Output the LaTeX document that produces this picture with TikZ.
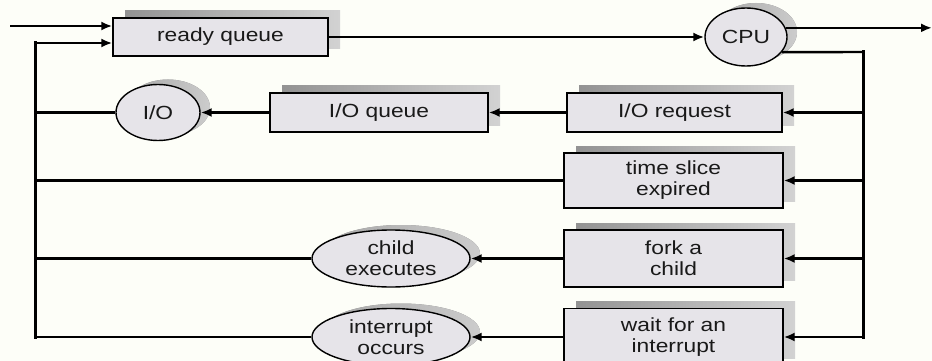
\documentclass[tikz,border=0pt]{standalone}
\usepackage{fontspec}
\setmainfont{Liberation Sans}[FakeStretch=1.2]
\usetikzlibrary{arrows.meta,shapes.geometric,shadows}
\definecolor{bgcol}{RGB}{253,254,248}
\definecolor{boxfill}{RGB}{230,228,233}
\tikzset{
  lbl/.style={font=\fontsize{19}{21}\selectfont, text=black!90, align=center},
  qbox/.style={lbl, draw=black, line width=1.4pt, fill=boxfill, rectangle, inner sep=0pt,
    drop shadow={shadow xshift=12pt, shadow yshift=7pt, left color=gray!85, right color=gray!35, opacity=1}},
  oval/.style={lbl, draw=black, line width=1.4pt, fill=boxfill, ellipse, inner sep=0pt,
    drop shadow={shadow xshift=10pt, shadow yshift=5pt, left color=gray!70, right color=gray!40, opacity=1}},
  conn/.style={line width=2.4pt, draw=black},
  vconn/.style={line width=3pt, draw=black, line cap=rect},
  arr/.style={conn, -{Latex[length=11pt,width=9pt]}},
}
\begin{document}
\begin{tikzpicture}[x=1pt,y=-1pt]
\useasboundingbox (0,0) rectangle (932,361);
\clip (0,0) rectangle (932,361);
\fill[bgcol] (0,0) rectangle (932,361);

% nodes
\node[qbox, minimum width=215pt, minimum height=38pt] (rq) at (220.5,37) {ready queue};
\node[oval, minimum width=82pt, minimum height=58pt] (cpu) at (746,37) {CPU};
\node[qbox, minimum width=215pt, minimum height=39pt] (ioreq) at (674.5,112.5) {I/O request};
\node[qbox, minimum width=218pt, minimum height=39pt] (ioq) at (379,112.5) {I/O queue};
\node[oval, minimum width=84pt, minimum height=56pt] (io) at (158,112.5) {I/O};
\node[qbox, minimum width=219pt, minimum height=55pt] (ts) at (673.5,180.5) {time slice\\expired};
\node[qbox, minimum width=219pt, minimum height=57pt] (fork) at (673.5,258.5) {fork a\\child};
\node[oval, minimum width=158pt, minimum height=57pt] (child) at (391,258.5) {child\\executes};
\node[qbox, minimum width=219pt, minimum height=57pt] (wait) at (673.5,337) {wait for an\\interrupt};
\node[oval, minimum width=158pt, minimum height=57pt] (intr) at (391,337) {interrupt\\occurs};

% junction coordinates
\coordinate (in1) at (10,26);
\coordinate (ltop) at (35,43);
\coordinate (lbot) at (35,337);
\coordinate (rtop) at (863,52);
\coordinate (rbot) at (863,337);
\coordinate (out) at (932,28);

% connectors
\draw[arr] (in1) -- (in1 -| rq.west);
\draw[vconn] (lbot) -- (ltop);
\draw[arr] (ltop) -- (ltop -| rq.west);
\draw[arr] (rq.east) -- (cpu.west);
\draw[arr] (cpu.13) -- (cpu.13 -| out);
\draw[conn] (cpu.-23) -- (rtop);
\draw[vconn] (rtop) -- (rbot);
\draw[arr] (ioreq.east -| rbot) -- (ioreq.east);
\draw[arr] (ts.east -| rbot) -- (ts.east);
\draw[arr] (fork.east -| rbot) -- (fork.east);
\draw[arr] (rbot) -- (wait.east);
\draw[arr] (ioreq.west) -- (ioq.east);
\draw[arr] (ioq.west) -- (io.east);
\draw[conn] (io.west) -- (io.west -| lbot);
\draw[conn] (ts.west) -- (ts.west -| lbot);
\draw[arr] (fork.west) -- (child.east);
\draw[conn] (child.west) -- (child.west -| lbot);
\draw[arr] (wait.west) -- (intr.east);
\draw[conn] (intr.west) -- (lbot);
\end{tikzpicture}
\end{document}
